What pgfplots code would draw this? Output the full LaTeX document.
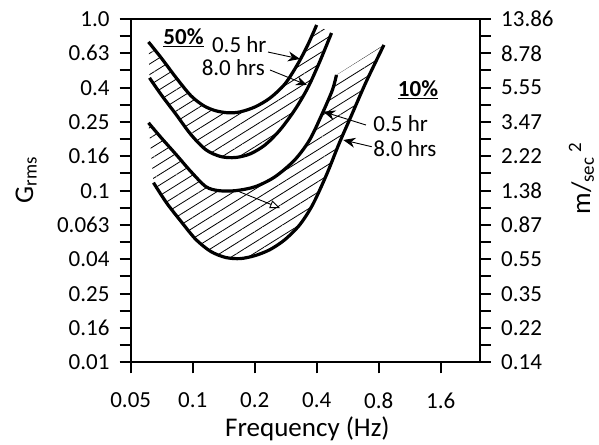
\documentclass[border=0pt]{standalone}
\usepackage{fontspec}
\setmainfont{Carlito}
\usepackage{pgfplots}
\pgfplotsset{compat=1.18}
\usepgfplotslibrary{fillbetween}
\usetikzlibrary{arrows.meta,patterns.meta}

\begin{document}
\fontsize{23}{27}\selectfont
\begin{tikzpicture}
\begin{axis}[name=ax,
  scale only axis, width=349.3pt, height=343.3pt,
  xmode=log, log basis x=2, ymode=log,
  xmin=0.05, xmax=2.483, ymin=0.01, ymax=1,
  axis line style={line width=1.8pt},
  tick align=outside,
  major tick length=11pt, minor tick length=11pt,
  tick style={black, line width=2pt},
  ytick={1,0.631,0.3981,0.2512,0.1585,0.1,0.0631,0.03981,0.02512,0.01585,0.01},
  minor ytick={0.7943,0.5012,0.3162,0.1995,0.1259,0.07943,0.05012,0.03162,0.01995,0.01259},
  clip=false,
  xtick={0.05,0.1,0.2,0.4,0.8,1.6},
  xticklabels={0.05,0.1,0.2,0.4,0.8,1.6},
  yticklabels={1.0,0.63,0.4,0.25,0.16,0.1,0.063,0.04,0.25,0.16,0.01},
  xtick pos=bottom, ytick pos=left,
  xticklabel style={inner sep=0pt, yshift=-19pt},
  yticklabel style={inner sep=0pt, xshift=-10pt},
  xlabel={Frequency (Hz)},
  xlabel style={at={(axis description cs:0.506,0)}, anchor=base, yshift=-74.5pt, font=\fontsize{27}{32}\selectfont},
  ylabel={G\textsubscript{rms}},
  ylabel style={at={(axis description cs:-0.2797,0.531)}, anchor=base, rotate=0, font=\fontsize{27}{32}\selectfont},
]
  % 50% band
  \addplot[black, line width=3.2pt, smooth, tension=0.5, no markers, name path=c1] coordinates {
    (0.0610,0.735) (0.0704,0.593) (0.0832,0.454) (0.0981,0.357) (0.1133,0.312)
    (0.1294,0.292) (0.1494,0.284) (0.1706,0.288) (0.2014,0.308) (0.2378,0.347)
    (0.2807,0.419) (0.3241,0.548) (0.3620,0.706) (0.3998,0.923)};
  \addplot[black, line width=3.2pt, smooth, tension=0.5, no markers, name path=c2] coordinates {
    (0.0617,0.454) (0.0704,0.3615) (0.0832,0.277) (0.0981,0.212) (0.1159,0.173)
    (0.1368,0.158) (0.1615,0.156) (0.1906,0.164) (0.2250,0.185) (0.2656,0.226)
    (0.3135,0.296) (0.3620,0.397) (0.4133,0.562) (0.4720,0.829)};
  % 10% band
  \addplot[black, line width=3.2pt, smooth, tension=0.5, no markers, name path=c3] coordinates {
    (0.0610,0.2485) (0.0704,0.203) (0.0832,0.162) (0.0981,0.129) (0.1159,0.1055)
    (0.1338,0.100) (0.1615,0.100) (0.2014,0.1055) (0.2513,0.1206) (0.3135,0.1514)
    (0.3700,0.198) (0.4273,0.284) (0.4772,0.387) (0.4989,0.472)};
  \addplot[black, line width=3.2pt, smooth, tension=0.5, no markers, name path=c4] coordinates {
    (0.0645,0.1113) (0.0745,0.0852) (0.0879,0.0660) (0.1037,0.0519) (0.1225,0.0442)
    (0.1446,0.0408) (0.1706,0.0402) (0.2014,0.0419) (0.2378,0.0454) (0.2807,0.0519)
    (0.3314,0.0634) (0.3826,0.0829) (0.4466,0.1239) (0.5157,0.190) (0.5889,0.273)
    (0.6950,0.430) (0.8481,0.706)};
  \addplot[draw=none, pattern={Lines[angle=32, distance=9pt, line width=0.8pt]}] fill between[of=c1 and c2];
  \addplot[draw=none, pattern={Lines[angle=32, distance=9pt, line width=0.8pt]}] fill between[of=c3 and c4];

  % annotations
  \begin{scope}[every node/.style={font=\fontsize{23}{27}\selectfont}]
  \node[anchor=center, inner sep=0pt] at (axis cs:0.0902,0.775) {\underline{\textbf{50\%}}};
  \node[anchor=east, inner sep=0pt] at (axis cs:0.2287,0.7054) {0.5 hr};
  \node[anchor=east, inner sep=0pt] at (axis cs:0.2244,0.5183) {8.0 hrs};
  \node[anchor=center, inner sep=0pt] at (axis cs:1.2415,0.3858) {\underline{\textbf{10\%}}};
  \node[anchor=west, inner sep=0pt] at (axis cs:0.753,0.2450) {0.5 hr};
  \node[anchor=west, inner sep=0pt] at (axis cs:0.753,0.1750) {8.0 hrs};
  \end{scope}
  \draw[line width=0.9pt, -{Stealth[length=12pt,width=10pt]}] (axis cs:0.2321,0.642) -- (axis cs:0.3319,0.585);
  \draw[line width=0.9pt, -{Stealth[length=11pt,width=9pt]}] (axis cs:0.2373,0.5045) -- (axis cs:0.3589,0.4126);
  \draw[line width=0.9pt, -{Stealth[length=12pt,width=10pt]}] (axis cs:0.694,0.2412) -- (axis cs:0.4305,0.2884);
  \draw[line width=0.9pt, -{Stealth[length=12pt,width=10pt]}] (axis cs:0.740,0.1803) -- (axis cs:0.5386,0.1973);
  \draw[line width=0.9pt, -{Triangle[open,length=10pt,width=8pt]}] (axis cs:0.1605,0.1009) -- (axis cs:0.2654,0.0792);
\end{axis}

\begin{axis}[
  scale only axis, width=349.3pt, height=343.3pt,
  xmode=log, log basis x=2, ymode=log,
  xmin=0.05, xmax=2.483, ymin=0.01, ymax=1,
  axis x line=none, axis y line*=right,
  axis line style={line width=1.8pt},
  tick align=outside,
  major tick length=11pt, minor tick length=11pt,
  tick style={black, line width=2pt},
  ytick={1,0.631,0.3981,0.2512,0.1585,0.1,0.0631,0.03981,0.02512,0.01585,0.01},
  minor ytick={0.7943,0.5012,0.3162,0.1995,0.1259,0.07943,0.05012,0.03162,0.01995,0.01259},
  yticklabels={13.86,8.78,5.55,3.47,2.22,1.38,0.87,0.55,0.35,0.22,0.14},
  yticklabel style={inner sep=0pt, xshift=10pt},
  ylabel={m/\textsubscript{sec}\,\textsuperscript{2}},
  ylabel style={at={(axis description cs:1.315,0.535)}, anchor=base, rotate=0, font=\fontsize{27}{32}\selectfont},
]
\end{axis}

\pgfresetboundingbox
\path[use as bounding box] ([shift={(-130.7pt,-81.7pt)}]ax.south west) rectangle ([shift={(119pt,19pt)}]ax.north east);
\end{tikzpicture}
\end{document}
